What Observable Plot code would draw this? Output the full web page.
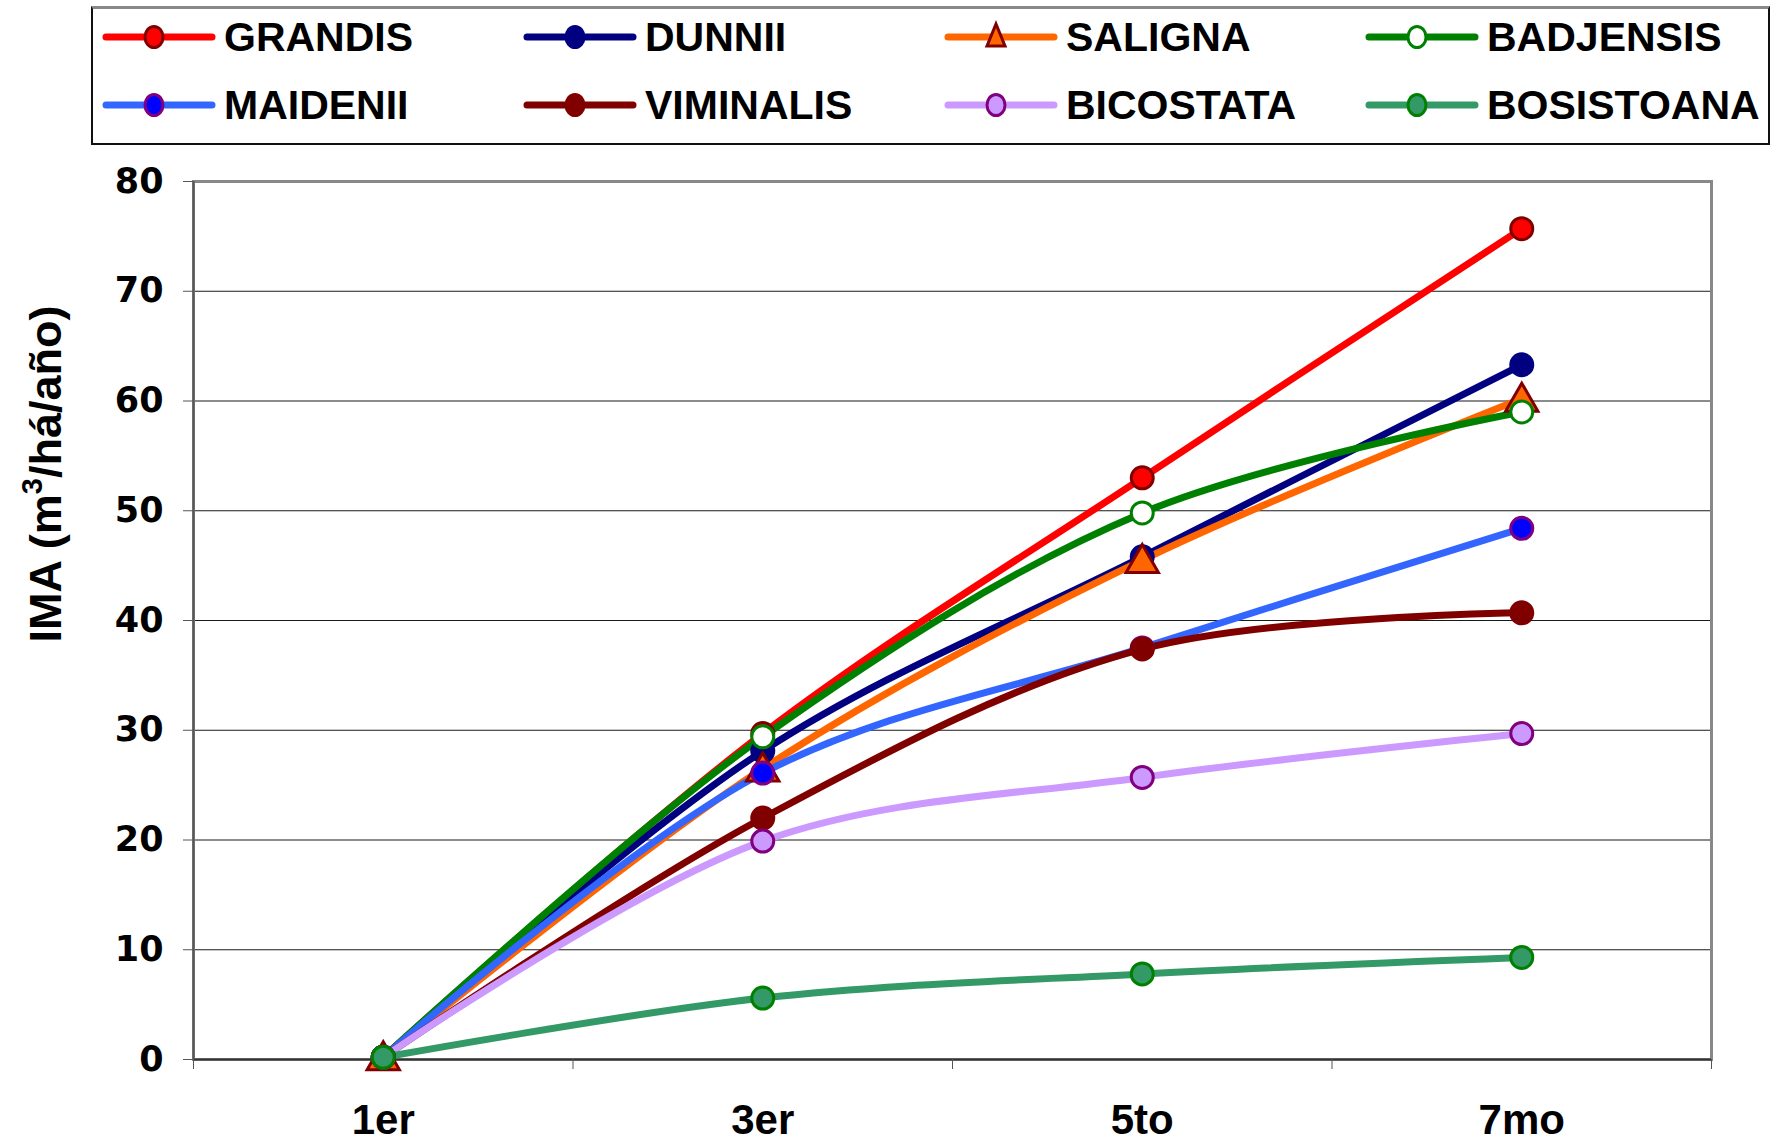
<!DOCTYPE html>
<html><head><meta charset="utf-8">
<script src="https://cdn.jsdelivr.net/npm/d3@7"></script>
<script src="https://cdn.jsdelivr.net/npm/@observablehq/plot@0.6"></script>
<style>
body{margin:0;background:#fff;width:1784px;height:1141px;overflow:hidden;position:relative;font-family:"Liberation Sans",Arial,sans-serif;}
#legend{position:absolute;left:91px;top:6px;width:1679px;height:139px;border:2px solid #111;border-top:3px solid #888;box-sizing:border-box;}
.item{position:absolute;height:60px;display:flex;align-items:center;}
.item svg{flex:none;}
.item span{font-weight:bold;font-size:41px;color:#000;margin-left:6px;white-space:nowrap;letter-spacing:0px;}
#chart{position:absolute;left:0;top:150px;}
#ylabel{position:absolute;left:46px;top:474px;transform:translate(-50%,-50%) rotate(-90deg);font-weight:bold;font-size:45px;white-space:nowrap;color:#000;}
#ylabel sup{font-size:29px;vertical-align:0;position:relative;top:-19px;}
</style>
</head><body>
<div id="legend"></div>
<div id="ylabel">IMA (m<sup>3</sup>/há/año)</div>
<div id="chart"></div>
<script>
// ---- data ----
const categories = ["1er", "3er", "5to", "7mo"];
const years = [1, 3, 5, 7];
const yTicks = [0, 10, 20, 30, 40, 50, 60, 70, 80];
const seriesNames = ["GRANDIS", "DUNNII", "SALIGNA", "BADJENSIS", "MAIDENII", "VIMINALIS", "BICOSTATA", "BOSISTOANA"];
const grandis    = [0.2, 29.7, 53.0, 75.7];
const dunnii     = [0.2, 28.1, 45.8, 63.3];
const saligna    = [0.2, 26.5, 45.5, 60.2];
const badjensis  = [0.2, 29.4, 49.8, 59.0];
const maidenii   = [0.2, 26.1, 37.5, 48.4];
const viminalis  = [0.2, 22.0, 37.4, 40.7];
const bicostata  = [0.2, 19.9, 25.7, 29.7];
const bosistoana = [0.2, 5.6, 7.8, 9.3];
const seriesValues = [grandis, dunnii, saligna, badjensis, maidenii, viminalis, bicostata, bosistoana];

// ---- styles ----
const lineColors   = ["#FF0000", "#000080", "#FF6600", "#008000", "#3366FF", "#800000", "#CC99FF", "#339966"];
const markerFill   = ["#FF0000", "#000080", "#FF6600", "#FFFFFF", "#0000FF", "#800000", "#CC99FF", "#339966"];
const markerStroke = ["#800000", "#000080", "#800000", "#008000", "#800080", "#800000", "#800080", "#008000"];
const markerSymbol = ["circle", "circle", "triangle", "circle", "circle", "circle", "circle", "circle"];

const table = seriesNames.flatMap((s, i) => seriesValues[i].map((v, j) => ({series: s, year: years[j], cat: categories[j], value: v})));

// ---- legend ----
const legend = document.getElementById("legend");
const colX = [9, 430, 851, 1272];
const rowY = [-2, 66];
seriesNames.forEach((s, i) => {
  const d = document.createElement("div");
  d.className = "item";
  d.style.left = colX[i % 4] + "px";
  d.style.top = rowY[Math.floor(i / 4)] + "px";
  const ns = "http://www.w3.org/2000/svg";
  const svg = document.createElementNS(ns, "svg");
  svg.setAttribute("width", 116); svg.setAttribute("height", 40);
  const ln = document.createElementNS(ns, "line");
  ln.setAttribute("x1", 4); ln.setAttribute("x2", 110); ln.setAttribute("y1", 20); ln.setAttribute("y2", 20);
  ln.setAttribute("stroke", lineColors[i]); ln.setAttribute("stroke-width", 7); ln.setAttribute("stroke-linecap", "round");
  svg.appendChild(ln);
  let m;
  if (markerSymbol[i] === "triangle") {
    m = document.createElementNS(ns, "path");
    m.setAttribute("d", "M52,7 L61,29 L43,29 Z");
  } else {
    m = document.createElementNS(ns, "ellipse");
    m.setAttribute("cx", 52); m.setAttribute("cy", 20); m.setAttribute("rx", 9); m.setAttribute("ry", 10.5);
  }
  m.setAttribute("fill", markerFill[i]); m.setAttribute("stroke", markerStroke[i]); m.setAttribute("stroke-width", 3);
  svg.appendChild(m);
  d.appendChild(svg);
  const t = document.createElement("span");
  t.textContent = s;
  d.appendChild(t);
  legend.appendChild(d);
});

// ---- chart ----
const marks = [
  Plot.gridY(yTicks.slice(1, -1), {stroke: "#000", strokeOpacity: 0.9, strokeWidth: 1}),
  Plot.frame({stroke: "#888", strokeWidth: 3}),
  Plot.ruleY([0], {stroke: "#333", strokeWidth: 2}),
  Plot.ruleX([0], {stroke: "#555", strokeWidth: 2}),
  Plot.axisY({ticks: yTicks, tickSize: 10, tickPadding: 20, fontSize: 35, fontWeight: "bold", fontFamily: "DejaVu Sans", stroke: "#555", label: null}),
  Plot.axisX({ticks: [0, 2, 4, 6, 8], tickSize: 10, tickFormat: () => "", stroke: "#555", label: null}),
  Plot.axisX({ticks: years, tickSize: 0, tickPadding: 45, tickFormat: (d) => categories[years.indexOf(d)], fontSize: 42, fontWeight: "bold", fontFamily: "Liberation Sans", label: null})
];
seriesNames.forEach((s, i) => {
  marks.push(Plot.line(table.filter(d => d.series === s), {x: "year", y: "value", stroke: lineColors[i], strokeWidth: 7, curve: "catmull-rom"}));
});
seriesNames.forEach((s, i) => {
  const tri = markerSymbol[i] === "triangle";
  marks.push(Plot.dot(table.filter(d => d.series === s), {x: "year", y: "value", fill: markerFill[i], stroke: markerStroke[i], strokeWidth: 3, r: tri ? 12 : 11, symbol: markerSymbol[i], dy: tri ? 3 : 0}));
});

const chart = Plot.plot({
  width: 1784,
  height: 991,
  marginLeft: 193,
  marginRight: 73,
  marginTop: 31,
  marginBottom: 82,
  x: {type: "linear", domain: [0, 8]},
  y: {domain: [0, 80]},
  style: {background: "transparent", overflow: "visible", color: "#000"},
  marks
});
document.getElementById("chart").appendChild(chart);
</script>
</body></html>
